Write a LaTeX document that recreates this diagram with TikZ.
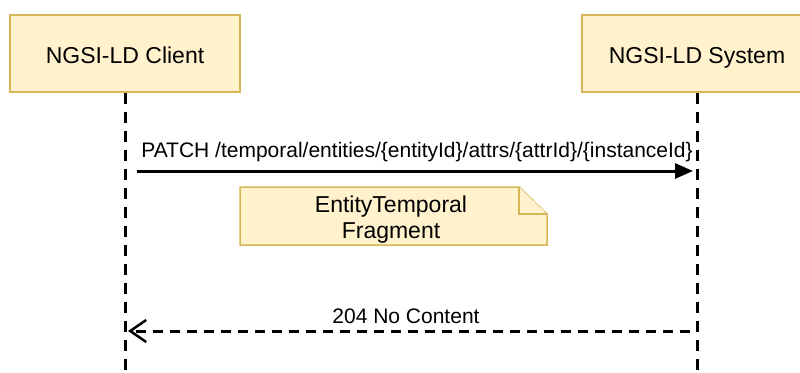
\documentclass[tikz,border=0pt]{standalone}
\usepackage{fontspec}
\setmainfont{Liberation Sans}
\usetikzlibrary{arrows.meta}
\definecolor{boxfill}{HTML}{FFF2CC}
\definecolor{boxline}{HTML}{D6B656}
\begin{document}
\begin{tikzpicture}[x=1pt,y=-1pt,
  actor/.style={draw=boxline,fill=boxfill,line width=1.5pt,minimum width=230pt,minimum height=77pt,inner sep=0pt,text height=21pt,text depth=2pt,font=\fontsize{23}{27}\selectfont},
  lifeline/.style={line width=3pt,dash pattern=on 11pt off 8pt},
  msg/.style={font=\fontsize{21}{25}\selectfont,inner sep=0pt},
  notebox/.style={draw=boxline,fill=boxfill,line width=1.5pt,line join=miter}
]
\useasboundingbox (0,0) rectangle (800,372);
\node[actor] (client) at (125,53.5) {NGSI-LD Client};
\node[actor] (system) at (697,53.5) {NGSI-LD System};
\coordinate (cend) at (125,372);
\coordinate (send) at (697,372);
\draw[lifeline] (client.south) -- (cend);
\draw[lifeline] (system.south) -- (send);
% request
\coordinate (rqs) at (137,171);
\coordinate (rqe) at (693,171);
\draw[line width=3pt,-{Triangle[length=18pt,width=15pt]}] (rqs) -- (rqe);
\node[msg] (rqlabel) at (417,152) {PATCH /temporal/entities/\{entityId\}/attrs/\{attrId\}/\{instanceId\}};
% note
\draw[notebox] (240,187) -- (519,187) -- (547,214) -- (547,245) -- (240,245) -- cycle;
\draw[notebox] (519,187) -- (519,214) -- (547,214);
\node[align=center,font=\fontsize{23}{26}\selectfont,inner sep=0pt] (note) at (391,219.5) {EntityTemporal\\Fragment};
% response
\coordinate (rss) at (690,331);
\coordinate (rse) at (128,331);
\draw[line width=3pt,dash pattern=on 10pt off 7pt,-{Straight Barb[length=16pt,width=22pt,line width=2.5pt]}] (rss) -- (rse);
\node[msg] (rslabel) at (406,316) {204 No Content};
\end{tikzpicture}
\end{document}
